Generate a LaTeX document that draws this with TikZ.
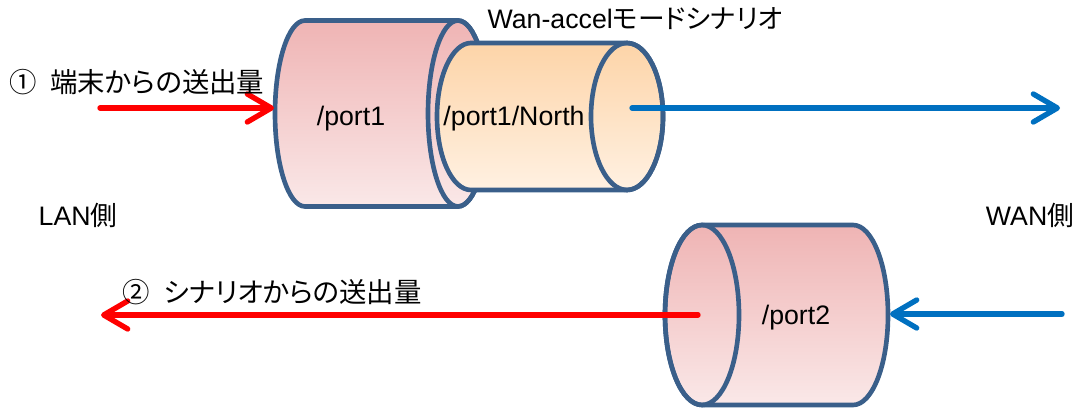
\documentclass[tikz,border=0pt]{standalone}
\usepackage{fontspec}
\setmainfont{Liberation Sans}
\newfontfamily\jpfont{Noto Sans CJK JP}
\newfontfamily\jppfont[RawFeature=+palt]{Noto Sans CJK JP}
\usetikzlibrary{arrows.meta}

\definecolor{cylline}{RGB}{58,95,138}
\definecolor{pinktop}{RGB}{239,180,180}
\definecolor{pinkbot}{RGB}{250,232,232}
\definecolor{orangetop}{RGB}{253,212,168}
\definecolor{orangebot}{RGB}{255,241,226}
\definecolor{wanblue}{RGB}{0,112,192}

\begin{document}
\begin{tikzpicture}[
  x=0.025cm, y=-0.025cm,
  >={Straight Barb[length=6mm, width=7mm, round]},
  cyl/.style={draw=cylline, line width=3.3pt, line join=round},
  pinkfill/.style={top color=pinktop, bottom color=pinkbot},
  orangefill/.style={top color=orangetop, bottom color=orangebot},
  lanflow/.style={->, draw=red, line width=3.8pt, line cap=round},
  wanflow/.style={->, draw=wanblue, line width=3.8pt, line cap=round},
  lab/.style={font=\fontsize{19}{22}\selectfont, inner sep=0pt},
  flowlab/.style={font=\fontsize{19.5}{24}\selectfont\jppfont, inner sep=0pt, anchor=west},
]
\useasboundingbox (0,0) rectangle (1083,407);

% ------------------------------------------------------------------
% /port1 with /port1/North in front of it
% ------------------------------------------------------------------
\path[cyl, pinkfill] (305,20.5) -- (458,20.5)
     arc[start angle=-90, end angle=90, x radius=30, y radius=93]
     -- (305,206.5)
     arc[start angle=90, end angle=270, x radius=30, y radius=93] -- cycle;
\draw[cyl] (458,113.5) ellipse [x radius=30, y radius=93];

\path[cyl, orangefill] (471,43) -- (627,43)
     arc[start angle=-90, end angle=90, x radius=36, y radius=73.5]
     -- (471,190)
     arc[start angle=90, end angle=270, x radius=34, y radius=73.5] -- cycle;
\draw[cyl] (627,116.5) ellipse [x radius=36, y radius=73.5];

\node[lab] (port1) at (351,119) {/port1};
\node[lab] (north) at (514,119) {/port1/North};
\node[lab] (title) at (635,19) {Wan-accel{\jppfont モードシナリオ}};

% ------------------------------------------------------------------
% /port2
% ------------------------------------------------------------------
\path[cyl, pinkfill] (702,225) -- (853,225)
     arc[start angle=-90, end angle=90, x radius=35, y radius=90]
     -- (702,405)
     arc[start angle=90, end angle=270, x radius=37, y radius=90] -- cycle;
\draw[cyl] (702,315) ellipse [x radius=37, y radius=90];

\node[lab] (port2) at (796,318) {/port2};

% sides
\node[lab] (lanside) at (78,215) {LAN{\jpfont 側}};
\node[lab] (wanside) at (1030,215) {WAN{\jpfont 側}};

% ------------------------------------------------------------------
% flows
% ------------------------------------------------------------------
\coordinate (lanin)   at (100,108);
\coordinate (p1in)    at (274,108);
\coordinate (northout) at (632,108);
\coordinate (wanout)  at (1060,108);
\coordinate (wanin)   at (1062,314);
\coordinate (p2in)    at (890,314);
\coordinate (p2out)   at (698,315);
\coordinate (lanout)  at (101,315);

\draw[lanflow] (lanin) -- (p1in);
\draw[wanflow] (northout) -- (wanout);
\draw[wanflow] (wanin) -- (p2in);
\draw[lanflow] (p2out) -- (lanout);

\node[flowlab] (termflow) at (9,82) {①\hspace{0.5em}端末からの送出量};
\node[flowlab] (scenflow) at (122,292) {②\hspace{0.5em}シナリオからの送出量};
\end{tikzpicture}
\end{document}
